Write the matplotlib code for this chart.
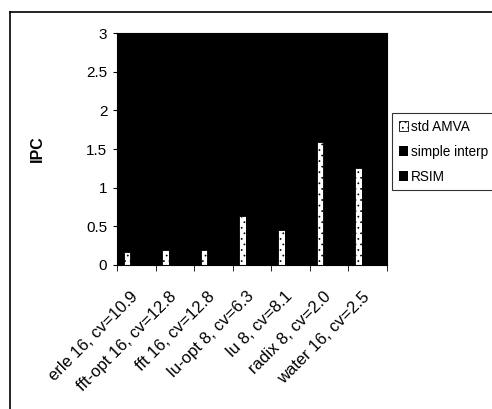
import numpy as np
import matplotlib.pyplot as plt
import matplotlib.transforms as mtrans
from matplotlib.lines import Line2D

'''data'''
categories = ['erle 16, cv=10.9', 'fft-opt 16, cv=12.8', 'fft 16, cv=12.8',
              'lu-opt 8, cv=6.3', 'lu 8, cv=8.1', 'radix 8, cv=2.0', 'water 16, cv=2.5']
std_amva = [0.17, 0.19, 0.19, 0.63, 0.45, 1.59, 1.25]
# black bars on a black plot area, values can not be read
simple_interp = [0.17, 0.19, 0.19, 0.63, 0.45, 1.59, 1.25]
rsim = [0.17, 0.19, 0.19, 0.63, 0.45, 1.59, 1.25]

plt.rcParams['font.family'] = ['Liberation Sans', 'DejaVu Sans']
plt.rcParams['hatch.linewidth'] = 0.5

fig = plt.figure(figsize=(4.92, 4.09), dpi=100)
ax = fig.add_axes([117/492, 1-265/409, 270/492, 232/409])
ax.set_facecolor('black')

x = np.arange(len(categories))
w = 0.17
ax.bar(x - 0.24, std_amva, w, color='white', edgecolor='black', hatch='...',
       linewidth=0.6, label='std AMVA')
ax.bar(x - 0.06, simple_interp, w, color='black', label='simple interp')
ax.bar(x + 0.12, rsim, w, color='black', label='RSIM')

ax.set_xlim(-0.5, len(categories) - 0.5)
ax.set_ylim(0, 3)
ax.set_yticks([0, 0.5, 1, 1.5, 2, 2.5, 3])
ax.set_yticklabels(['0', '0.5', '1', '1.5', '2', '2.5', '3'], fontsize=11)
ax.set_xticks(x)
ax.set_xticklabels(categories, rotation=45, ha='right', rotation_mode='anchor', fontsize=12)
ax.tick_params(axis='x', length=0, pad=0)
# shift the slanted labels down and a little left, as in the scan
shift = mtrans.ScaledTranslation(-6/100, -24/100, fig.dpi_scale_trans)
for lab in ax.get_xticklabels():
    lab.set_transform(lab.get_transform() + shift)
ax.set_xticks(np.arange(-0.5, len(categories)), minor=True)
ax.tick_params(axis='x', which='minor', length=4, direction='out')
ax.tick_params(axis='y', length=3, direction='out', pad=4)
for s in ax.spines.values():
    s.set_color('black')
ax.set_ylabel('IPC', fontsize=11.5, weight='bold', labelpad=30)

leg = fig.legend(loc='upper left', bbox_to_anchor=(392/492, 1-113/409), fontsize=9.8,
                 frameon=True, fancybox=False, edgecolor='black', handlelength=0.7,
                 handleheight=0.7, handletextpad=0.2, borderpad=0.5, labelspacing=0.8,
                 borderaxespad=0)
leg.get_frame().set_linewidth(0.8)

'''outer chart border'''
fig.add_artist(Line2D([10/492, 10/492], [0, 1-12/409], color='black', lw=1.2))
fig.add_artist(Line2D([10/492, 1], [1-12/409, 1-12/409], color='black', lw=1.2))

fig.savefig('out.png', dpi=100)
